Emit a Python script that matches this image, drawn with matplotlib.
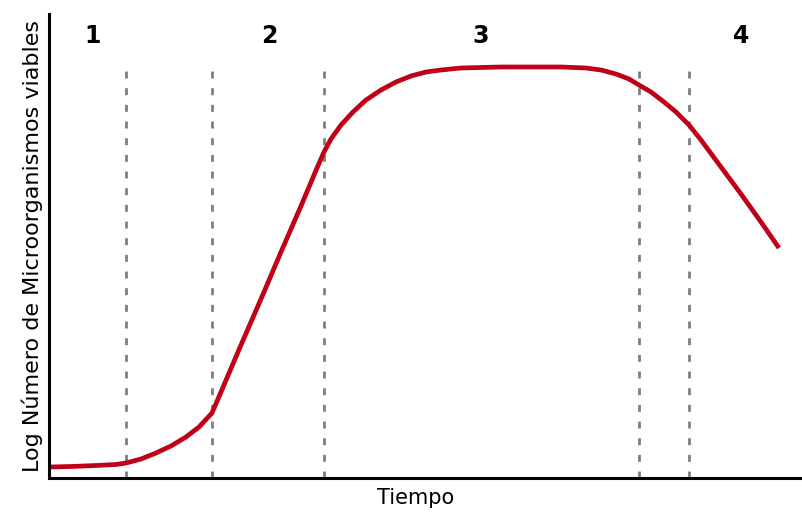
import matplotlib.pyplot as plt

# Kurve (Zeit / log Anzahl)
tiempo = [0, 22, 47, 67, 77, 92, 107, 122, 137, 150, 163, 172, 192,
          212, 232, 252, 268, 275, 282, 292, 304, 317, 332, 347, 362,
          377, 392, 412, 452, 512, 537, 552, 567, 580, 590, 602, 615,
          627, 640, 652, 672, 692, 712, 730]
log_n = [11, 11.5, 12.5, 13.5, 15, 19, 25, 32, 41, 51, 65, 86, 133,
         179, 226, 272, 310, 326, 339, 353, 366, 378, 388, 396, 402,
         406, 408, 410, 411, 411, 410, 408, 404, 399, 393, 386, 376,
         366, 353, 338, 311, 284, 256, 230]

# Phasengrenzen und Beschriftungen
grenzen = [77, 163, 275, 590, 640]
phasen = ["1", "2", "3", "4"]
phasen_x = [44, 220, 432, 692]

fig = plt.figure(figsize=(8.03, 5.14), dpi=100)
ax = fig.add_axes([49 / 803, 36 / 514, 754 / 803, 464 / 514])

# gestrichelte Phasengrenzen
for g in grenzen:
    ax.plot([g, g], [0, 410], color="#7f7f7f", lw=2, ls=(0, (2.5, 3.5)))

# Wachstumskurve
ax.plot(tiempo, log_n, color="#bf0018", lw=3.4, solid_capstyle="butt",
        solid_joinstyle="round")

for txt, xp in zip(phasen, phasen_x):
    ax.text(xp, 442, txt, ha="center", va="center",
            fontsize=17, fontweight="bold")

ax.set_xlim(0, 754)
ax.set_ylim(0, 464)
ax.set_xticks([])
ax.set_yticks([])
for s in ["top", "right"]:
    ax.spines[s].set_visible(False)
ax.spines["left"].set_linewidth(2.2)
ax.spines["bottom"].set_linewidth(2.2)

ax.set_xlabel("Tiempo", fontsize=15, labelpad=7)
ax.xaxis.label.set_x(367 / 754)
ax.set_ylabel("Log Número de Microorganismos viables", fontsize=16, labelpad=4)

fig.savefig("out.png", dpi=100)
